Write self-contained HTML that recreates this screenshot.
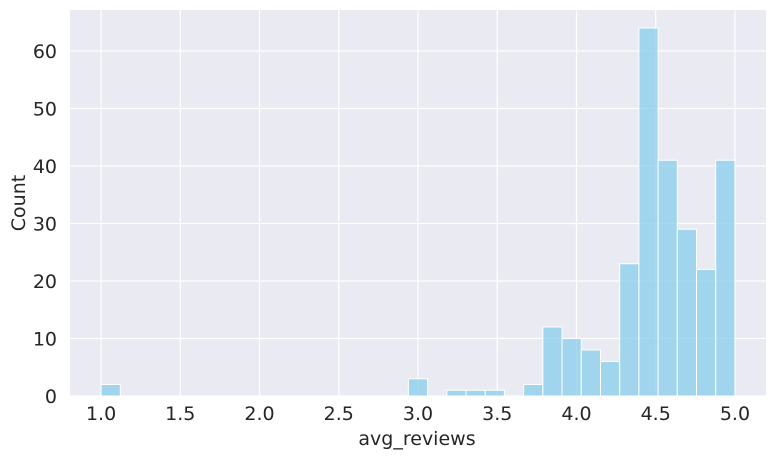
<!DOCTYPE html>
<html><head><meta charset="utf-8"><style>
body{margin:0;background:#fff;font-family:"Liberation Sans","DejaVu Sans",sans-serif;}
svg text{fill:#262626;font-size:19px;font-family:"DejaVu Sans","Liberation Sans",sans-serif;}
</style></head><body>
<svg id="chart" width="776" height="459">
<rect x="70" y="10" width="696" height="386" fill="#eaeaf2"/>
<g id="grid"></g><g id="bars"></g><g id="axes"></g>
<text x="417" y="445" text-anchor="middle">avg_reviews</text>
<text transform="translate(25,203) rotate(-90)" text-anchor="middle">Count</text>
</svg>
<script>
const binStart = 1.0;
const binEnd = 5.0;
const binCount = 33;
const counts = [2,0,0,0,0,0,0,0,0,0,0,0,0,0,0,0,3,0,1,1,1,0,2,12,10,8,6,23,64,41,29,22,41];
const xTicks = ["1.0","1.5","2.0","2.5","3.0","3.5","4.0","4.5","5.0"];
const yTicks = [0,10,20,30,40,50,60];
const NS="http://www.w3.org/2000/svg";
const X0=70,X1=766,Y0=396,Y1=10,xmin=0.804,xmax=5.196,ymin=0,ymax=67.13;
const sx=v=>X0+(v-xmin)/(xmax-xmin)*(X1-X0);
const sy=v=>Y0-(v-ymin)/(ymax-ymin)*(Y0-Y1);
function mk(t,a,p){const e=document.createElementNS(NS,t);for(const k in a)e.setAttribute(k,a[k]);p.appendChild(e);return e;}
const grid=document.getElementById('grid'),bars=document.getElementById('bars'),axes=document.getElementById('axes');
xTicks.forEach(t=>{const x=sx(parseFloat(t));
 const l=mk('line',{x1:x,x2:x,y1:Y1,y2:Y0,stroke:'#fff','stroke-width':1.2},grid);
 
 
 const tx=mk('text',{x:x,y:420,'text-anchor':'middle'},axes);tx.textContent=t;
 
 });
yTicks.forEach(t=>{const y=sy(t);
 const l=mk('line',{x1:X0,x2:X1,y1:y,y2:y,stroke:'#fff','stroke-width':1.2},grid);
 
 
 const tx=mk('text',{x:57,y:y+7,'text-anchor':'end'},axes);tx.textContent=t;
 
 });
const w=(binEnd-binStart)/binCount;
counts.forEach((c,i)=>{if(!c)return;const a=binStart+i*w;
 const r=mk('rect',{x:sx(a),y:sy(c),width:sx(a+w)-sx(a),height:sy(0)-sy(c),fill:'#87ceeb','fill-opacity':0.75,stroke:'#fff','stroke-width':1},bars);
 
 });
</script>
</body></html>
